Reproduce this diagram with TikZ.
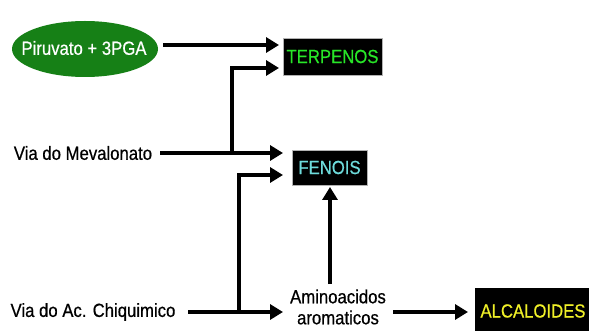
\documentclass[tikz,border=0pt]{standalone}
\usepackage{fontspec}
\setmainfont[FakeStretch=0.88,FakeBold=0.6]{Liberation Sans}
\usetikzlibrary{arrows.meta,shapes.geometric}
\definecolor{ellgreen}{RGB}{22,128,22}
\definecolor{tergreen}{RGB}{40,230,40}
\definecolor{fencyan}{RGB}{110,220,220}
\definecolor{alcyellow}{RGB}{240,240,40}
\tikzset{
  conn/.style={line width=3.3pt,-{Triangle[length=13pt,width=15pt]}},
  lbl/.style={font=\fontsize{19}{21}\selectfont,inner sep=0pt,text=black},
  prodbox/.style={fill=black,draw=gray!60,line width=0.5pt,font=\fontsize{19}{21}\selectfont,inner sep=0pt}
}
\begin{document}
\begin{tikzpicture}[x=1pt,y=-1pt]
\useasboundingbox (0,0) rectangle (589,331);
\fill[white] (0,0) rectangle (589,331);
\fill[ellgreen] (85,49) ellipse [x radius=73, y radius=28];
\node[inner sep=0pt,text=white,font=\fontsize{19}{21}\selectfont] (piru) at (84,48) {Piruvato + 3PGA};
\node[prodbox,minimum width=99pt,minimum height=37pt,text=tergreen] (terp) at (332.5,56.5) {TERPENOS};
\node[prodbox,minimum width=75pt,minimum height=35pt,text=fencyan] (fen) at (329.5,167.5) {FENOIS};
\fill[black] (475,288) rectangle (595,340);
\node[font=\fontsize{19}{21}\selectfont,text=alcyellow,inner sep=0pt] (alc) at (533,311) {ALCALOIDES};
\node[lbl] (mev) at (83,153) {Via do Mevalonato};
\node[lbl] (chiq) at (93,312) {Via do Ac. Chiquimico};
\node[lbl,align=center] (amino) at (338,307) {Aminoacidos\\aromaticos};
% coordinates
\coordinate (p1) at (163,45);
\coordinate (t1) at (279,45);
\coordinate (t2) at (279,68);
\coordinate (m1) at (160,153);
\coordinate (mt) at (283,153);
\coordinate (mb) at (232,153);
\coordinate (c1) at (188,312);
\coordinate (ct) at (283,312);
\coordinate (cb) at (239,312);
\coordinate (ft) at (283,175);
\coordinate (a1) at (330,284);
\coordinate (at) at (330,187);
\coordinate (a2) at (393,312);
\coordinate (alt) at (468,312);
\draw[conn] (p1) -- (t1);
\draw[conn] (m1) -- (mt);
\draw[conn] (mb) |- (t2);
\draw[conn] (c1) -- (ct);
\draw[conn] (cb) |- (ft);
\draw[conn] (a1) -- (at);
\draw[conn] (a2) -- (alt);
\end{tikzpicture}
\end{document}
